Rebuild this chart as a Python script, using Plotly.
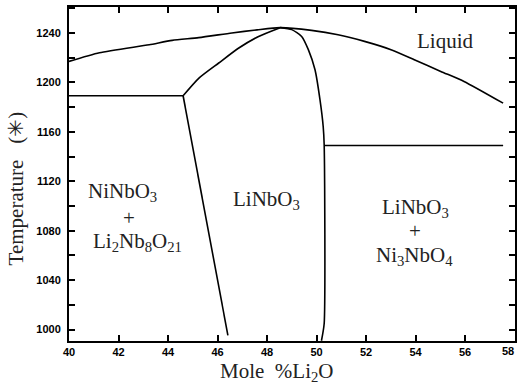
import plotly.graph_objects as go

# Liquidus (upper boundary)
liq_x = [40.0, 41.23, 43.24, 44.17, 45.24, 46.58, 47.6, 48.53, 49.8, 50.87, 51.94, 53.01, 53.95, 55.02, 55.96, 57.54]
liq_t = [1217, 1224, 1230.5, 1234, 1236.2, 1240, 1242.5, 1244.3, 1242.1, 1238.6, 1233.2, 1226.5, 1218.4, 1208.9, 1200.8, 1183.2]

# Solidus, LiNbO3 left side (eutectic point to congruent maximum)
sol_l_x = [44.61, 45.25, 46.05, 46.86, 47.66, 48.53]
sol_l_t = [1189.2, 1203.5, 1215.7, 1227.8, 1237.2, 1244.3]

# Solidus, LiNbO3 right side + phase boundary downwards
sol_r_x = [48.53, 49.0, 49.4, 49.67, 49.94, 50.14, 50.27, 50.31, 50.31, 50.2]
sol_r_t = [1244.3, 1242.7, 1237.2, 1226.5, 1210.2, 1186, 1164.3, 1149.4, 1005, 991]

# Left eutectic line
eut_x = [40.0, 44.61]
eut_t = [1189.2, 1189.2]

# LiNbO3 left solvus
solv_x = [44.61, 46.42]
solv_t = [1189.2, 995.4]

# Right horizontal line
hor_x = [50.31, 57.54]
hor_t = [1149.0, 1149.0]

# Region labels
lab_text = ["Liquid", "NiNbO<sub>3</sub>", "+", "Li<sub>2</sub>Nb<sub>8</sub>O<sub>21</sub>",
            "LiNbO<sub>3</sub>", "LiNbO<sub>3</sub>", "+", "Ni<sub>3</sub>NbO<sub>4</sub>"]
lab_x = [55.2, 42.16, 42.44, 42.76, 47.97, 54.0, 53.96, 53.96]
lab_t = [1233.7, 1111, 1090, 1071, 1105, 1098, 1080, 1059.5]

# Ticks
x_tickvals = [40, 42, 44, 46, 48, 50, 52, 54, 56, 58]
x_ticktext = ["40", "42", "44", "46", "48", "50", "52", "54", "56", "58"]
y_tickvals = [1000, 1020, 1040, 1060, 1080, 1100, 1120, 1140, 1160, 1180, 1200, 1220, 1240, 1260]
y_ticktext = ["1000", "", "1040", "", "1080", "", "1120", "", "1160", "", "1200", "", "1240", ""]

x_title = "Mole\u00a0\u00a0%Li<sub>2</sub>O"
y_title = "Temperature\u00a0\u00a0\u00a0(✳)"

fig = go.Figure()
line = dict(color="black", width=1.6)
for xs, ts in [(liq_x, liq_t), (sol_l_x, sol_l_t), (sol_r_x, sol_r_t),
               (eut_x, eut_t), (solv_x, solv_t), (hor_x, hor_t)]:
    fig.add_trace(go.Scatter(x=xs, y=ts, mode="lines", line=dict(line, shape="spline", smoothing=0.6),
                             showlegend=False, hoverinfo="skip"))

serif = dict(family="Liberation Serif", size=21, color="#222")
for t, x, y in zip(lab_text, lab_x, lab_t):
    fig.add_annotation(x=x, y=y, text=t, showarrow=False, font=serif)

# axis titles as paper annotations
fig.add_annotation(xref="paper", yref="paper", x=0.4665, y=-0.093, text=x_title,
                   showarrow=False, font=serif, xanchor="center", yanchor="middle")
fig.add_annotation(xref="paper", yref="paper", x=-0.118, y=0.458, text=y_title, textangle=-90,
                   showarrow=False, font=serif, xanchor="center", yanchor="middle")

tickfont = dict(family="Liberation Sans", size=11, color="black", weight="bold")
axis_common = dict(showgrid=False, zeroline=False, showline=True, linecolor="black", linewidth=2,
                   mirror="allticks", ticks="inside", ticklen=6, tickwidth=1.5, tickcolor="black",
                   tickfont=tickfont)

# last x tick label sits at the right page edge: draw it right-anchored so it stays inside the page
fig.add_annotation(x=x_tickvals[-1], xref="x", y=0, yref="paper", text="<b>" + x_ticktext[-1] + "</b>",
                   showarrow=False, font=tickfont, xanchor="right", yanchor="top",
                   yshift=-3, borderpad=0)

fig.update_xaxes(range=[40, 58.02], tickmode="array", tickvals=x_tickvals, ticktext=x_ticktext,
                 **axis_common)
fig.update_yaxes(range=[990.8, 1261], tickmode="array", tickvals=y_tickvals, ticktext=y_ticktext,
                 ticklabelstandoff=4, **axis_common)

fig.update_layout(width=520, height=385, margin=dict(l=69, r=3, t=7, b=44),
                  plot_bgcolor="white", paper_bgcolor="white")

fig.write_html("out.html", config={"displayModeBar": False},
               post_script="document.body.style.margin='0';document.body.style.overflow='hidden';")
